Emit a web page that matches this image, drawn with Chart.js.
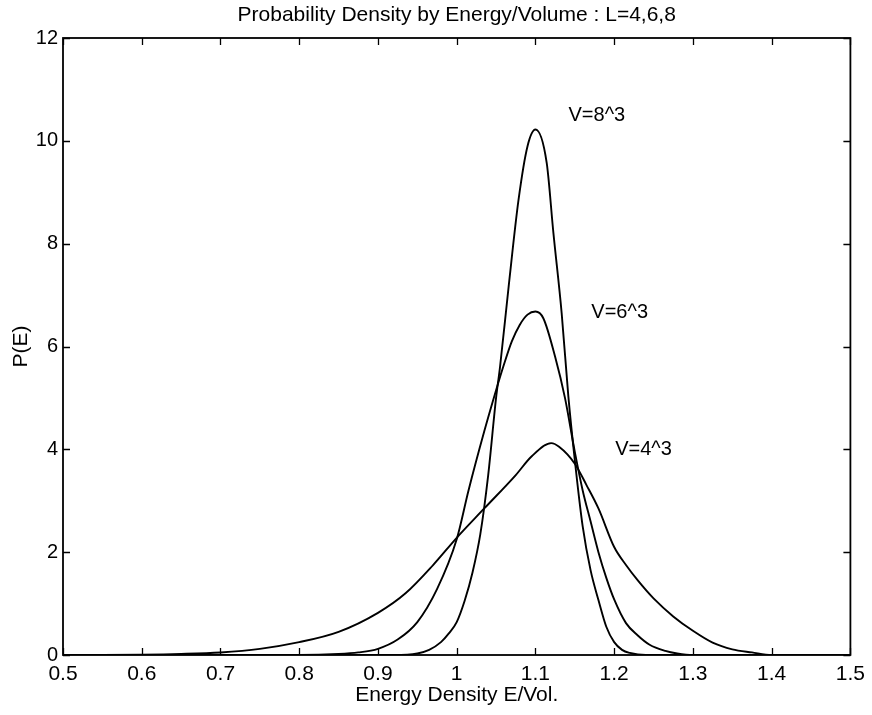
<!DOCTYPE html>
<html>
<head>
<meta charset="utf-8">
<script src="https://cdn.jsdelivr.net/npm/chart.js@4/dist/chart.umd.min.js"></script>
<style>
  html, body { margin: 0; padding: 0; background: #fff; }
  canvas { display: block; }
</style>
</head>
<body>
<canvas id="c" width="872" height="715"></canvas>
<script>
// ---- Data ----
const xTickValues = [0.5, 0.6, 0.7, 0.8, 0.9, 1.0, 1.1, 1.2, 1.3, 1.4, 1.5];
const xTickLabels = ['0.5', '0.6', '0.7', '0.8', '0.9', '1', '1.1', '1.2', '1.3', '1.4', '1.5'];
const yTickValues = [0, 2, 4, 6, 8, 10, 12];

const energyV4 = [0.50, 0.55, 0.60, 0.65, 0.70, 0.75, 0.80, 0.85, 0.90, 0.935, 0.97, 1.00, 1.035, 1.075, 1.095, 1.12, 1.13, 1.15, 1.165, 1.18, 1.20, 1.215, 1.23, 1.25, 1.275, 1.30, 1.325, 1.35, 1.375, 1.40, 1.45, 1.50];
const probV4   = [0, 0, 0.005, 0.02, 0.05, 0.12, 0.25, 0.45, 0.82, 1.2, 1.75, 2.28, 2.85, 3.5, 3.86, 4.12, 4.05, 3.72, 3.3, 2.85, 2.1, 1.75, 1.45, 1.1, 0.75, 0.47, 0.24, 0.11, 0.05, 0, 0, 0];

const energyV6 = [0.50, 0.80, 0.85, 0.875, 0.90, 0.925, 0.95, 0.975, 1.00, 1.015, 1.035, 1.05, 1.06, 1.07, 1.08, 1.09, 1.10, 1.11, 1.125, 1.1375, 1.15, 1.16, 1.17, 1.18, 1.19, 1.20, 1.215, 1.23, 1.245, 1.265, 1.28, 1.30, 1.50];
const probV6   = [0, 0, 0.02, 0.05, 0.12, 0.3, 0.64, 1.28, 2.25, 3.2, 4.35, 5.15, 5.65, 6.1, 6.42, 6.62, 6.68, 6.55, 5.8, 5.0, 3.95, 3.2, 2.6, 2.0, 1.5, 1.08, 0.62, 0.38, 0.2, 0.08, 0.03, 0, 0];

const energyV8 = [0.50, 0.92, 0.95, 0.965, 0.98, 0.99, 1.00, 1.01, 1.02, 1.03, 1.04, 1.05, 1.055, 1.066, 1.0785, 1.09, 1.10, 1.1143, 1.1228, 1.1333, 1.1418, 1.15, 1.16, 1.17, 1.18, 1.19, 1.20, 1.21, 1.22, 1.24, 1.50];
const probV8   = [0, 0, 0.03, 0.1, 0.25, 0.42, 0.64, 1.05, 1.6, 2.35, 3.5, 5.0, 5.6, 7.17, 8.85, 9.9, 10.22, 9.57, 8.21, 6.65, 5.03, 3.79, 2.5, 1.65, 1.07, 0.55, 0.25, 0.1, 0.04, 0, 0];

const curveLabels = ['V=8^3', 'V=6^3', 'V=4^3'];

const chartTitle = 'Probability Density by Energy/Volume : L=4,6,8';
const xAxisTitle = 'Energy Density E/Vol.';
const yAxisTitle = 'P(E)';

// ---- Presentation ----
const FONT = '"Liberation Sans", Arial, Helvetica, sans-serif';
// label anchors (data coordinates: left edge / vertical middle of text)
const labelAnchors = [
  { x: 1.142, y: 10.49 },
  { x: 1.171, y: 6.67 },
  { x: 1.2013, y: 3.99 }
];

function pts(xs, ys) { return xs.map((x, i) => ({ x: x, y: ys[i] })); }

const lineStyle = {
  borderColor: '#000',
  borderWidth: 1.9,
  pointRadius: 0,
  fill: false,
  cubicInterpolationMode: 'monotone'
};

const framePlugin = {
  id: 'frame',
  afterDraw(chart) {
    const { ctx, chartArea, scales } = chart;
    const { left, right, top, bottom } = chartArea;
    const xs = scales.x, ys = scales.y;
    ctx.save();
    ctx.strokeStyle = '#000';
    ctx.lineWidth = 1.8;
    ctx.strokeRect(left, top, right - left, bottom - top);
    const tl = 7;
    ctx.lineWidth = 1.3;
    ctx.beginPath();
    xs.ticks.forEach(t => {
      const px = Math.round(xs.getPixelForValue(t.value)) + 0.5;
      ctx.moveTo(px, bottom); ctx.lineTo(px, bottom - tl);
      ctx.moveTo(px, top); ctx.lineTo(px, top + tl);
    });
    ys.ticks.forEach(t => {
      const py = Math.round(ys.getPixelForValue(t.value)) + 0.5;
      ctx.moveTo(left, py); ctx.lineTo(left + tl, py);
      ctx.moveTo(right, py); ctx.lineTo(right - tl, py);
    });
    ctx.stroke();

    // title
    ctx.fillStyle = '#000';
    ctx.font = '21px ' + FONT;
    ctx.textAlign = 'center';
    ctx.textBaseline = 'middle';
    ctx.fillText(chartTitle, (left + right) / 2, 15);

    // curve labels
    ctx.font = '20px ' + FONT;
    ctx.textAlign = 'left';
    curveLabels.forEach((txt, i) => {
      const a = labelAnchors[i];
      ctx.fillText(txt, xs.getPixelForValue(a.x), ys.getPixelForValue(a.y));
    });
    ctx.restore();
  }
};

new Chart(document.getElementById('c'), {
  type: 'line',
  data: {
    datasets: [
      Object.assign({ label: curveLabels[0], data: pts(energyV8, probV8) }, lineStyle),
      Object.assign({ label: curveLabels[1], data: pts(energyV6, probV6) }, lineStyle),
      Object.assign({ label: curveLabels[2], data: pts(energyV4, probV4) }, lineStyle)
    ]
  },
  options: {
    responsive: false,
    animation: false,
    devicePixelRatio: 1,
    layout: { padding: { top: 38, right: 19, left: 0, bottom: 0 } },
    plugins: { legend: { display: false }, tooltip: { enabled: false }, title: { display: false } },
    scales: {
      x: {
        type: 'linear',
        min: 0.5, max: 1.5,
        afterBuildTicks: s => { s.ticks = xTickValues.map(v => ({ value: v })); },
        afterFit: s => { s.height = 60; },
        grid: { display: false, drawTicks: false },
        border: { display: false },
        ticks: {
          autoSkip: false, maxRotation: 0, padding: 7, color: '#000',
          font: { family: FONT, size: 21 },
          callback: (v, i) => xTickLabels[i]
        },
        title: {
          display: true, text: xAxisTitle, color: '#000',
          font: { family: FONT, size: 21 },
          padding: { top: 0, bottom: 7 }
        }
      },
      y: {
        type: 'linear',
        min: 0, max: 12,
        afterBuildTicks: s => { s.ticks = yTickValues.map(v => ({ value: v })); },
        afterFit: s => { s.width = 63; },
        grid: { display: false, drawTicks: false },
        border: { display: false },
        ticks: {
          autoSkip: false, padding: 5, color: '#000',
          font: { family: FONT, size: 20 },
          callback: v => String(v)
        },
        title: {
          display: true, text: yAxisTitle, color: '#000',
          font: { family: FONT, size: 21 },
          padding: { top: 9, bottom: 0 }
        }
      }
    }
  },
  plugins: [framePlugin]
});
</script>
</body>
</html>
